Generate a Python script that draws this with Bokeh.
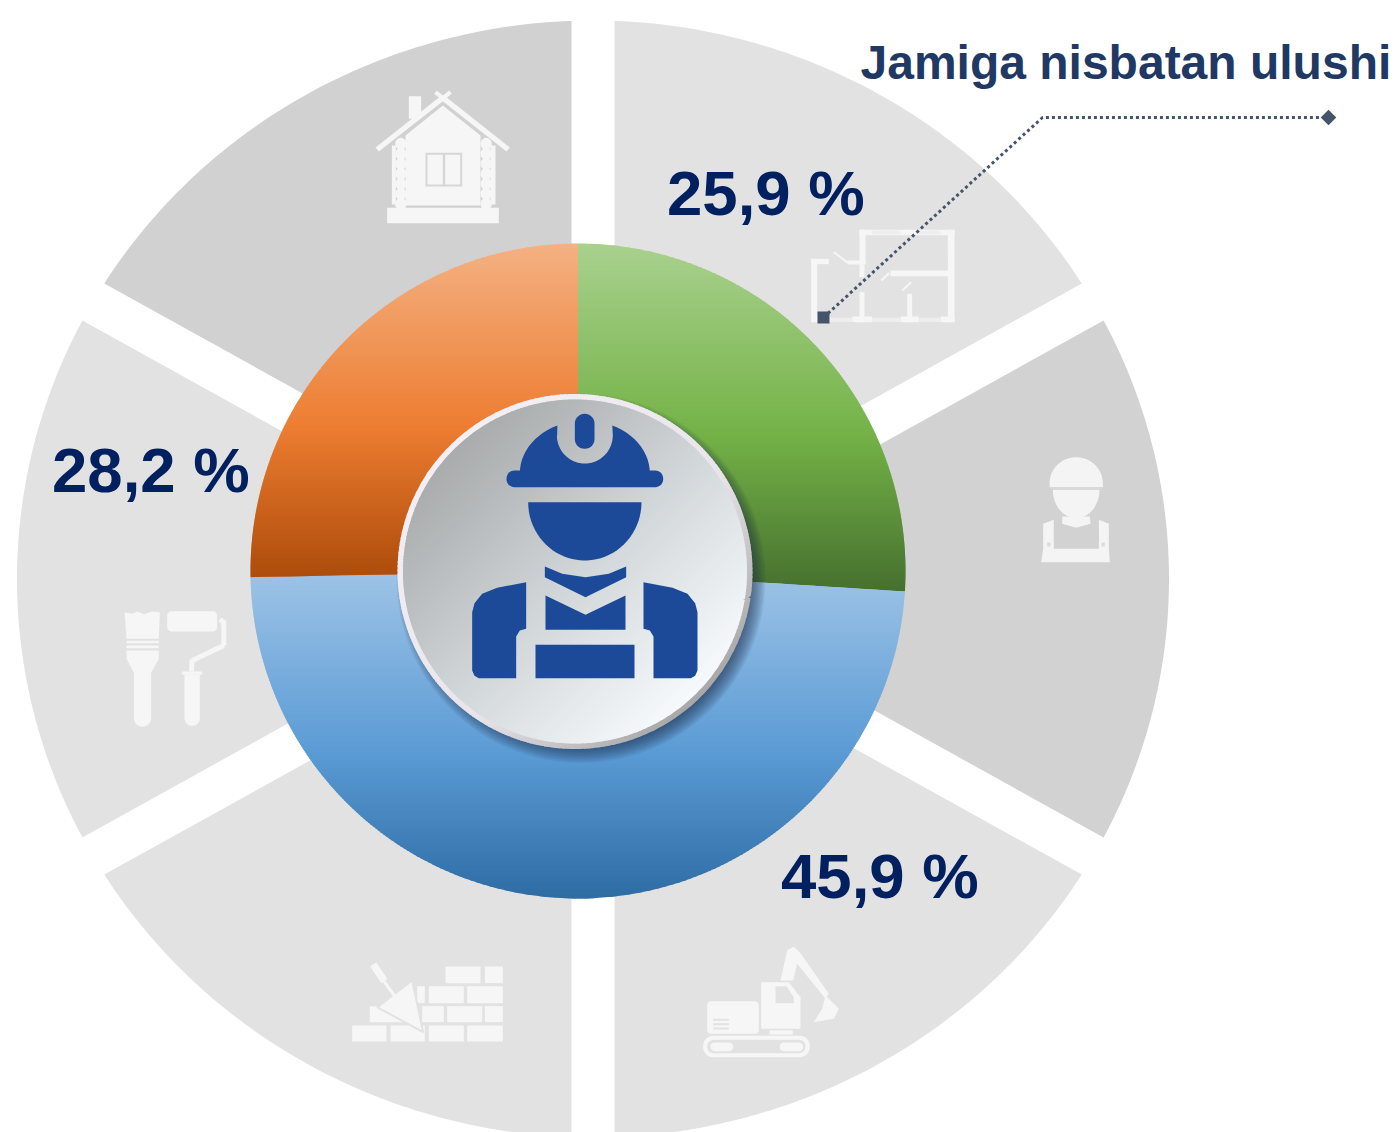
import math
import numpy as np
from bokeh.plotting import figure
from bokeh.models import Range1d
from bokeh.core.properties import value
from bokeh.embed import file_html
from bokeh.resources import INLINE

# ---- data ----
slice_names = ["green", "blue", "orange"]
slice_shares = [26.0, 48.7, 25.3]          # drawn share of the ring, in percent
percent_labels = ["25,9 %", "45,9 %", "28,2 %"]
label_x = [666.5, 780.5, 51.5]
label_y = [192, 875, 469]
heading = ["Jamiga nisbatan ulushi"]
slice_stops = [
    ["#a9d18e", "#74b247", "#46702f"],
    ["#9dc3e6", "#5b9bd5", "#2e6ca4"],
    ["#f4b183", "#ed7d31", "#ad4c0b"],
]
sector_shares = [61, 58, 61, 61, 58, 61]
sector_colors = ["#e2e2e2", "#d2d2d2", "#e2e2e2", "#e2e2e2", "#e2e2e2", "#d1d1d1"]

W, H = 1397, 1132
p = figure(width=W, height=H, x_range=Range1d(0, W), y_range=Range1d(H, 0),
           output_backend="svg", toolbar_location=None, tools="", min_border=0,
           outline_line_color=None, x_axis_location=None, y_axis_location=None,
           background_fill_color="white", border_fill_color="white")
p.grid.visible = False


def hex2rgb(c):
    return np.array([int(c[i:i + 2], 16) for i in (1, 3, 5)], dtype=float)


def ramp(stops, t, mid=0.5):
    a, b, c = [hex2rgb(s) for s in stops]
    t = min(max(t, 0.0), 1.0)
    col = a + (b - a) * t / mid if t < mid else b + (c - b) * (t - mid) / (1 - mid)
    return "#%02x%02x%02x" % tuple(int(round(v)) for v in col)


def clip(poly, d, lo, hi):
    """Clip polygon to lo <= dot(pt, d) <= hi."""
    def half(pts, f):
        out = []
        for i in range(len(pts)):
            a, b = pts[i], pts[(i + 1) % len(pts)]
            fa, fb = f(a), f(b)
            if fa >= 0:
                out.append(a)
            if (fa >= 0) != (fb >= 0):
                s = fa / (fa - fb)
                out.append((a[0] + s * (b[0] - a[0]), a[1] + s * (b[1] - a[1])))
        return out
    dot = lambda q: q[0] * d[0] + q[1] * d[1]
    pts = half(poly, lambda q: dot(q) - lo)
    if pts:
        pts = half(pts, lambda q: hi - dot(q))
    return pts


def band_fill(poly, d, lo, hi, stops, step=2.0, mid=0.5):
    xs, ys, cs = [], [], []
    t = lo
    while t < hi:
        pts = clip(poly, d, t, t + step + 1.0)
        if len(pts) >= 3:
            xs.append([q[0] for q in pts])
            ys.append([q[1] for q in pts])
            cs.append(ramp(stops, (t + step / 2 - lo) / (hi - lo), mid))
        t += step
    p.patches(xs, ys, fill_color=cs, line_color=None)


# ---- outer grey sectors (elliptical) with white gaps ----
SX, SY, SA, SB = 592.5, 578.5, 576.0, 558.5
def ell_r(th):
    return 1 / math.sqrt((math.cos(th) / SA) ** 2 + (math.sin(th) / SB) ** 2)

edges = np.cumsum([0] + sector_shares) / sum(sector_shares) * 2 * math.pi
sx, sy, rays_x, rays_y = [], [], [], []
for i in range(len(sector_shares)):
    th = math.pi / 2 - np.linspace(edges[i], edges[i + 1], 80)
    sx.append([SX] + [SX + ell_r(t) * math.cos(t) for t in th])
    sy.append([SY] + [SY - ell_r(t) * math.sin(t) for t in th])
    t0 = math.pi / 2 - edges[i]
    rays_x.append([SX, SX + 640 * math.cos(t0)])
    rays_y.append([SY, SY - 640 * math.sin(t0)])
p.patches(sx, sy, fill_color=sector_colors, line_color=None)
p.multi_line(rays_x, rays_y, line_color="white", line_width=43, line_cap="butt")


# ---- icon helpers ----
def Z(pts, ox, oy):
    return [ox + q[0] / 3 for q in pts], [oy + q[1] / 3 for q in pts]

def arc(cx, cy, rx, ry, a0, a1, n=24):
    return [(cx + rx * math.cos(math.radians(a)), cy - ry * math.sin(math.radians(a)))
            for a in np.linspace(a0, a1, n)]

def rect(x0, y0, x1, y1):
    return [(x0, y0), (x1, y0), (x1, y1), (x0, y1)]

def rrect(x0, y0, x1, y1, r):
    return (arc(x1 - r, y0 + r, r, r, 90, 0, 8) + arc(x1 - r, y1 - r, r, r, 0, -90, 8) +
            arc(x0 + r, y1 - r, r, r, -90, -180, 8) + arc(x0 + r, y0 + r, r, r, 180, 90, 8))

def thick(a, b, w):
    dx, dy = b[0] - a[0], b[1] - a[1]
    n = math.hypot(dx, dy)
    ox, oy = -dy / n * w / 2, dx / n * w / 2
    return [(a[0] + ox, a[1] + oy), (b[0] + ox, b[1] + oy), (b[0] - ox, b[1] - oy), (a[0] - ox, a[1] - oy)]

def draw(shapes, ox, oy, color):
    xs, ys = [], []
    for s in shapes:
        x, y = Z(s, ox, oy)
        xs.append(x)
        ys.append(y)
    p.patches(xs, ys, fill_color=color, line_color=None)


ICON = "#f6f6f6"
# house
o = (360, 80)
house = [rect(145, 47, 182, 115), thick((50, 207), (247, 52), 16), thick((247, 52), (443, 207), 16),
         thick((225, 35), (262, 65), 12), thick((270, 35), (232, 65), 12),
         [(135, 165), (247, 75), (360, 165), (360, 375), (135, 375)],
         rect(80, 382, 415, 428), rect(94, 195, 106, 372), rect(390, 195, 405, 372)]
for yy in range(190, 372, 30):
    house.append(arc(121, yy, 17, 18, 0, 360))
    house.append(arc(377, yy, 17, 18, 0, 360))
draw(house, *o, ICON)
draw([rect(195, 217, 305, 318)], *o, "#d6d6d6")
draw([rect(201, 223, 247, 312), rect(254, 223, 299, 312)], *o, ICON)

# floor plan
o = (790, 100)
draw([rect(207, 388, 492, 404), rect(472, 388, 492, 665), rect(207, 388, 225, 492),
      rect(300, 510, 475, 527), thick((272, 540), (296, 518), 7), rect(62, 475, 80, 665),
      rect(62, 475, 115, 491), rect(170, 480, 225, 492), thick((130, 455), (172, 487), 6),
      rect(207, 575, 222, 665), rect(350, 580, 365, 665), thick((335, 570), (362, 545), 6),
      rect(207, 492, 222, 530), rect(62, 648, 120, 665), rect(185, 648, 245, 665),
      rect(330, 648, 385, 665), rect(450, 648, 492, 665)], *o, ICON)
draw([rect(120, 652, 185, 664), rect(245, 652, 330, 664), rect(385, 652, 450, 664),
      rect(245, 390, 330, 402), rect(385, 390, 450, 402)], *o, "#eeeeee")

# small worker
o = (1030, 440)
draw([arc(137, 128, 80, 78, 180, 0) + [(218, 140), (58, 140)],
      arc(137, 148, 70, 85, 180, 360),
      [(95, 228), (178, 228), (180, 250), (137, 262), (95, 250)],
      [(38, 250), (70, 238), (70, 325), (205, 325), (205, 238), (235, 250), (235, 325), (238, 365), (32, 365), (38, 325)]],
     *o, "#f4f4f4")
draw([thick((62, 143), (212, 143), 3), rect(50, 306, 60, 318), rect(213, 306, 223, 318)], *o, "#dcdcdc")
draw([rect(70, 262, 205, 300)], *o, "#d2d2d2")

# excavator
o = (690, 930)
draw([rrect(50, 212, 205, 310, 12),
      [(212, 155), (295, 155), (330, 200), (330, 295), (212, 295)],
      rect(237, 300, 307, 312), rrect(38, 316, 358, 380, 30),
      [(270, 150), (290, 60), (310, 48), (328, 65), (415, 190), (405, 205), (320, 100), (308, 150)],
      [(405, 195), (445, 235), (430, 265), (370, 275), (395, 235)]], *o, ICON)
draw([rrect(50, 328, 345, 368, 20),
      [(255, 167), (288, 167), (310, 200), (310, 218), (255, 218)],
      rect(68, 265, 115, 271), rect(68, 278, 115, 284), rect(68, 291, 115, 297)], *o, "#e2e2e2")
draw([rrect(60, 336, 128, 362, 12), rrect(268, 336, 338, 362, 12)], *o, ICON)

# bricks and trowel
o = (340, 950)
draw([rect(315, 48, 420, 98), rect(433, 48, 487, 98), rect(230, 107, 253, 158), rect(265, 107, 370, 158),
      rect(380, 107, 487, 158), rect(88, 167, 190, 215), rect(245, 167, 310, 215), rect(320, 167, 425, 215),
      rect(433, 167, 487, 215), rect(35, 225, 138, 273), rect(150, 225, 253, 273), rect(265, 225, 370, 273),
      rect(380, 225, 487, 273)], *o, ICON)
tx, ty = Z([(215, 90), (248, 245), (110, 170)], *o)
p.patch(tx, ty, fill_color=ICON, line_color="#e2e2e2", line_width=2)
draw([thick((98, 42), (132, 92), 22), thick((130, 92), (183, 165), 9)], *o, ICON)

# brush and roller
o = (110, 595)
draw([[(42, 50), (65, 55), (80, 48), (100, 56), (125, 48), (148, 50), (145, 130), (48, 130)],
      rect(48, 136, 145, 143), rect(48, 150, 145, 158),
      [(48, 165), (145, 165), (145, 190), (122, 232), (122, 368)] + arc(96, 368, 26, 26, 0, -180) + [(70, 232), (48, 190)],
      rrect(170, 47, 320, 108, 14),
      thick((328, 72), (340, 80), 15), thick((340, 75), (340, 150), 15), thick((340, 150), (245, 195), 15),
      thick((245, 192), (243, 228), 15), rect(215, 228, 275, 238),
      [(222, 238), (268, 238), (268, 368)] + arc(245, 368, 23, 23, 0, -180)], *o, ICON)


# ---- coloured ring, one vertical gradient per slice ----
CX, CY, R = 577.5, 570.5, 327.5
RIN = 150.0
start = 90.0
for share, stops in zip(slice_shares, slice_stops):
    sweep = share / sum(slice_shares) * 360.0
    ang = np.radians(np.linspace(start, start - sweep, 160))
    poly = [(CX + R * math.cos(a), CY - R * math.sin(a)) for a in ang]
    poly += [(CX + RIN * math.cos(a), CY - RIN * math.sin(a)) for a in ang[::-1]]
    ylo = min(q[1] for q in poly)
    yhi = max(q[1] for q in poly)
    band_fill(poly, (0, 1), ylo, yhi, stops, step=2.0, mid=0.55)
    start -= sweep


# ---- central disc ----
DX, DY, DR = 574.5, 571.0, 177.5
p.circle([DX + 6] * 12, [DY + 7] * 12, radius=[DR + 7 - i * 1.4 for i in range(12)],
         fill_color="#1b2e44", fill_alpha=0.07, line_color=None)
def disc(r):
    a = np.radians(np.linspace(0.37, 360.37, 360, endpoint=False))
    return [(DX + r * math.cos(t), DY + r * math.sin(t)) for t in a]
s2 = math.sqrt(0.5)
mid_t = (DX + DY) * s2
band_fill(disc(DR), (s2, s2), mid_t - DR, mid_t + DR, ["#f4eff5", "#e8e4ea", "#a8a8a8"], step=3.0, mid=0.6)
band_fill(disc(DR - 5.5), (s2, s2), mid_t - DR + 5.5, mid_t + DR - 5.5, ["#a9abac", "#d0d5d8", "#f6fafd"], step=2.0, mid=0.5)

# worker on the disc
o = (370, 380)
BLUE = "#1c4a99"
dome = (arc(643, 278, 195, 158, 180, 115, 14) + [(560, 165)] + arc(643, 165, 84, 84, 180, 360, 20) +
        arc(643, 278, 195, 158, 65, 0, 14))
shoulder = [(467, 605), (380, 622), (335, 640), (312, 668), (305, 695), (305, 870), (312, 886), (325, 893),
            (437, 893), (437, 768), (448, 750), (467, 745)]
mirror = [(1286 - q[0], q[1]) for q in shoulder]
draw([dome, rrect(408, 270, 878, 320, 24), rrect(613, 100, 672, 205, 29),
      arc(643, 365, 170, 175, 180, 360, 40),
      [(523, 558), (575, 580), (645, 590), (715, 580), (767, 558), (767, 590), (645, 650), (523, 590)],
      [(525, 645), (645, 703), (765, 645), (765, 748), (525, 748)],
      rect(495, 793, 792, 893), shoulder, mirror], *o, BLUE)


# ---- callout ----
p.line([823, 1042, 1328], [317, 117, 117], line_color="#44546a", line_width=3, line_dash="3 3")
p.scatter([823], [317], marker="square", size=12, fill_color="#44546a", line_color=None)
p.scatter([1328], [117], marker="square", size=11, angle=math.pi / 4, fill_color="#44546a", line_color=None)

# ---- text ----
p.text(label_x, label_y, text=percent_labels, text_font=value("Liberation Sans"), text_font_style="bold",
       text_font_size=value("63.5px"), text_color="#002060", text_align="left", text_baseline="alphabetic")
p.text([860], [62], text=heading, text_font=value("Liberation Sans"), text_font_style="bold",
       text_font_size=value("48px"), text_color="#1f3864", text_align="left", text_baseline="alphabetic")

open("out.html", "w").write(file_html(p, INLINE))
